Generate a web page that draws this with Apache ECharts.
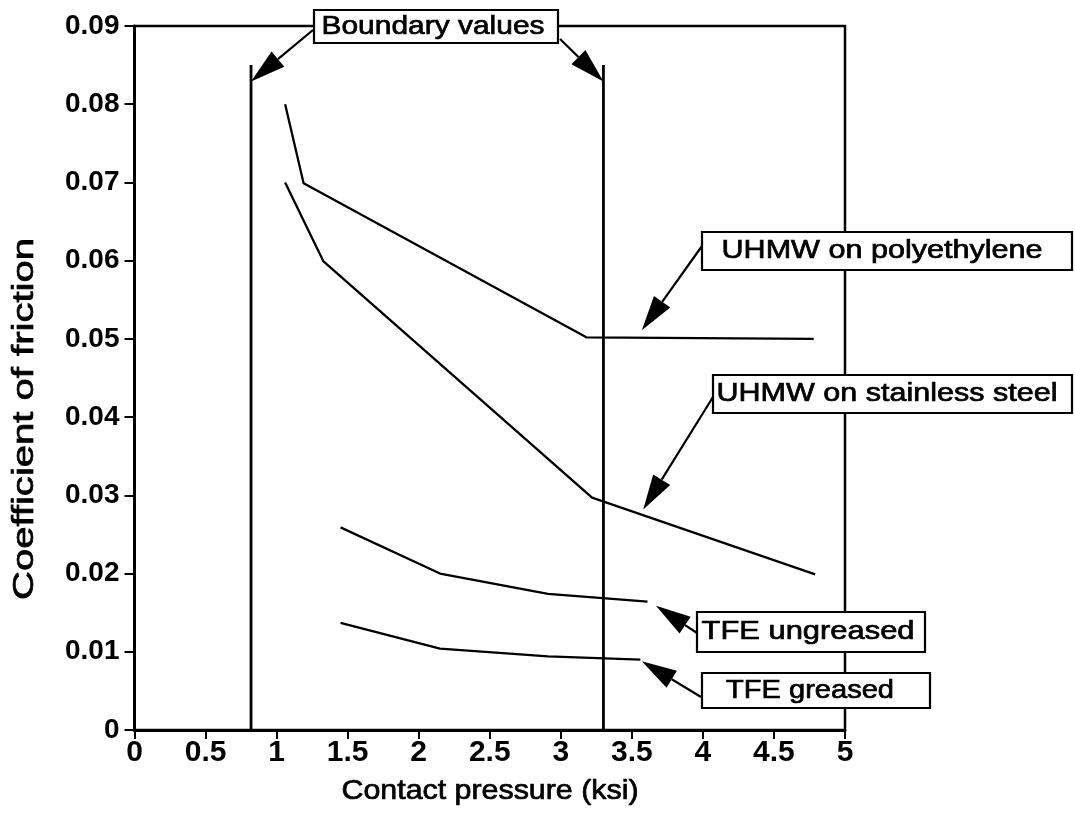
<!DOCTYPE html>
<html>
<head>
<meta charset="utf-8">
<script src="https://cdn.jsdelivr.net/npm/echarts@6/dist/echarts.min.js"></script>
<style>
html,body{margin:0;padding:0;background:#fff;}
#chart{width:1075px;height:815px;}
</style>
</head>
<body>
<div id="chart"></div>
<script>
// ---------------- data ----------------
const xTickLabels = ['0','0.5','1','1.5','2','2.5','3','3.5','4','4.5','5'];
const yTickLabels = ['0','0.01','0.02','0.03','0.04','0.05','0.06','0.07','0.08','0.09'];
const xAxisTitle = 'Contact pressure (ksi)';
const yAxisTitle = 'Coefficient of friction';

const polyX = [1.06, 1.19, 3.18, 4.78];
const polyY = [0.0800, 0.0699, 0.0502, 0.0500];
const steelX = [1.06, 1.33, 3.22, 4.79];
const steelY = [0.0700, 0.0599, 0.0297, 0.0199];
const ungreasedX = [1.45, 2.15, 2.91, 3.61];
const ungreasedY = [0.0259, 0.0200, 0.0174, 0.0164];
const greasedX = [1.45, 2.15, 2.91, 3.56];
const greasedY = [0.0137, 0.0104, 0.0094, 0.0090];
const boundaryX = [0.82, 3.30];
const boundaryTop = 0.085;

const labelTexts = ['Boundary values', 'UHMW on polyethylene', 'UHMW on stainless steel', 'TFE ungreased', 'TFE greased'];
// arrow tips (data space) for each label
const arrowTipX = [[0.82, 3.30], [3.57], [3.58], [3.67], [3.57]];
const arrowTipY = [[0.0829, 0.0829], [0.0511], [0.0282], [0.0159], [0.0088]];

// ---------------- layout (pixels) ----------------
const FONT = '"Liberation Sans", Arial, Helvetica, sans-serif';
const boxes = [
  {x:314, y:10,  w:244, h:33, cx:433, cy:27,  tw:223, tails:[[313,30],[560,39]]},
  {x:702, y:232, w:370, h:38, cx:882, cy:251, tw:321, tails:[[702,246]]},
  {x:713, y:375, w:359, h:38, cx:887, cy:394, tw:341, tails:[[713,397]]},
  {x:697, y:612, w:228, h:40, cx:808, cy:632, tw:213, tails:[[697,633]]},
  {x:702, y:673, w:228, h:35, cx:810, cy:691, tw:168, tails:[[701,697]]}
];

const mctx = document.createElement('canvas').getContext('2d');
function measure(text, size, weight) {
  mctx.font = (weight || 'normal') + ' ' + size + 'px ' + FONT;
  return mctx.measureText(text).width;
}

const chart = echarts.init(document.getElementById('chart'), null, {renderer: 'canvas'});
const pts = (xs, ys) => xs.map((x, i) => [x, ys[i]]);
const lineSeries = (name, xs, ys, w) => ({
  type: 'line', name: name, data: pts(xs, ys), showSymbol: false, symbol: 'none',
  lineStyle: {color: '#000', width: w}, itemStyle: {color: '#000'}, z: 3, silent: true
});

const option = {
  backgroundColor: '#fff',
  animation: false,
  grid: {left: 134.5, right: 230, top: 26, bottom: 85, show: true, borderColor: '#000', borderWidth: 2.5, backgroundColor: 'transparent'},
  xAxis: {
    type: 'value', min: 0, max: 5, interval: 0.5,
    axisLine: {show: true, lineStyle: {color: '#000', width: 3}},
    axisTick: {show: true, length: 9, lineStyle: {color: '#000', width: 2}},
    axisLabel: {color: '#000', fontFamily: FONT, fontWeight: 'bold', fontSize: 30, margin: 8,
      formatter: v => xTickLabels[Math.round(v / 0.5)]},
    splitLine: {show: false}
  },
  yAxis: {
    type: 'value', min: 0, max: 0.09, interval: 0.01,
    axisLine: {show: true, lineStyle: {color: '#000', width: 3}},
    axisTick: {show: true, length: 10, lineStyle: {color: '#000', width: 2}},
    axisLabel: {color: '#000', fontFamily: FONT, fontWeight: 'bold', fontSize: 28, margin: 15,
      formatter: v => yTickLabels[Math.round(v / 0.01)]},
    splitLine: {show: false}
  },
  series: [
    lineSeries('Boundary 1', [boundaryX[0], boundaryX[0]], [0, boundaryTop], 2.8),
    lineSeries('Boundary 2', [boundaryX[1], boundaryX[1]], [0, boundaryTop], 2.8),
    lineSeries(labelTexts[1], polyX, polyY, 2.3),
    lineSeries(labelTexts[2], steelX, steelY, 2.3),
    lineSeries(labelTexts[3], ungreasedX, ungreasedY, 2.3),
    lineSeries(labelTexts[4], greasedX, greasedY, 2.3)
  ]
};
chart.setOption(option);

// ---------------- annotations ----------------
const graphics = [];
const AL = 35, AW = 20;
boxes.forEach((b, i) => {
  b.tails.forEach((t, j) => {
    const tip = chart.convertToPixel({gridIndex: 0}, [arrowTipX[i][j], arrowTipY[i][j]]);
    const dx = tip[0] - t[0], dy = tip[1] - t[1];
    const len = Math.sqrt(dx * dx + dy * dy);
    const ux = dx / len, uy = dy / len;
    const bx = tip[0] - ux * AL, by = tip[1] - uy * AL;
    const nx = -uy, ny = ux;
    graphics.push({type: 'line', z: 50, silent: true,
      shape: {x1: t[0], y1: t[1], x2: bx, y2: by}, style: {stroke: '#000', lineWidth: 2.2}});
    graphics.push({type: 'polygon', z: 50, silent: true,
      shape: {points: [[tip[0], tip[1]], [bx + nx * AW / 2, by + ny * AW / 2], [bx - nx * AW / 2, by - ny * AW / 2]]},
      style: {fill: '#000'}});
  });
  graphics.push({type: 'rect', z: 60, silent: true,
    shape: {x: b.x, y: b.y, width: b.w, height: b.h}, style: {fill: '#fff', stroke: '#000', lineWidth: 2.2}});
  const fs = 26;
  const sx = b.tw / measure(labelTexts[i], fs);
  graphics.push({type: 'text', z: 61, silent: true, x: b.cx, y: b.cy, scaleX: sx,
    style: {text: labelTexts[i], fontSize: fs, fontFamily: FONT, fill: '#000', stroke: '#000', lineWidth: 0.7,
      textAlign: 'center', textVerticalAlign: 'middle'}});
});

// axis titles
const xtFs = 28;
graphics.push({type: 'text', z: 61, silent: true, x: 490, y: 791, scaleX: 297 / measure(xAxisTitle, xtFs),
  style: {text: xAxisTitle, fontSize: xtFs, fontFamily: FONT, fill: '#000', stroke: '#000', lineWidth: 0.7,
    textAlign: 'center', textVerticalAlign: 'middle'}});
const ytFs = 29;
graphics.push({type: 'text', z: 61, silent: true, x: 25, y: 419, rotation: Math.PI / 2, scaleX: 362 / measure(yAxisTitle, ytFs),
  style: {text: yAxisTitle, fontSize: ytFs, fontFamily: FONT, fill: '#000', stroke: '#000', lineWidth: 0.7,
    textAlign: 'center', textVerticalAlign: 'middle'}});

chart.setOption({graphic: {elements: graphics}});
</script>
</body>
</html>
